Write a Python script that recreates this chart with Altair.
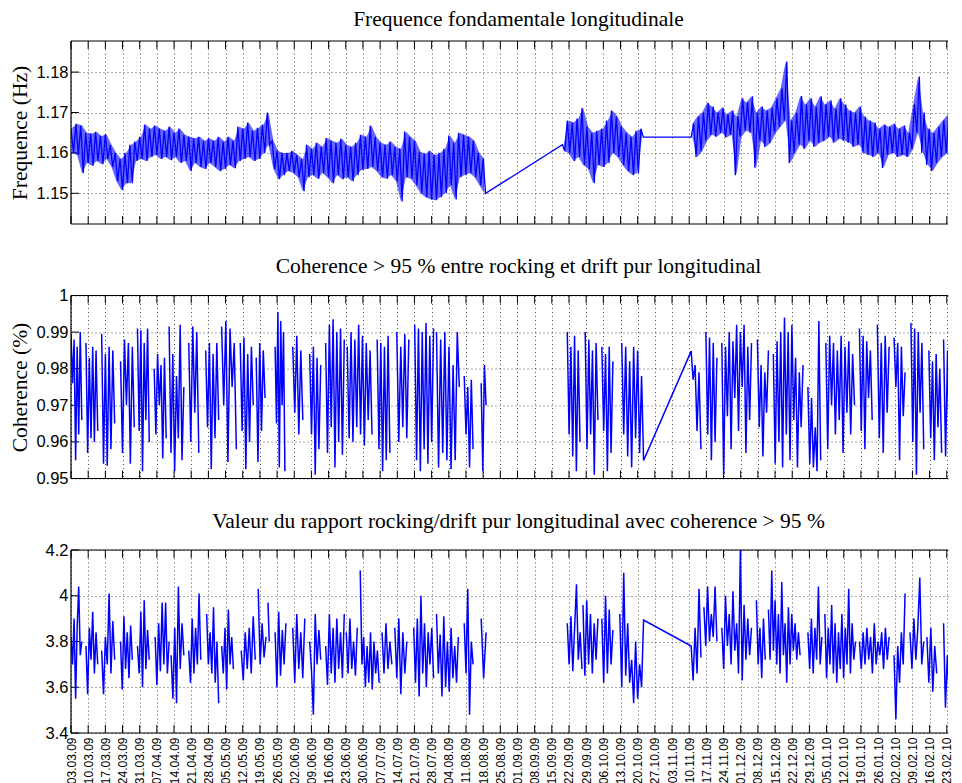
import altair as alt
import pandas as pd

# ---------------- tick labels (weekly, days since 03.03.09) ----------------
TICK_LABELS = ["03.03.09", "10.03.09", "17.03.09", "24.03.09", "31.03.09", "07.04.09", "14.04.09",
               "21.04.09", "28.04.09", "05.05.09", "12.05.09", "19.05.09", "26.05.09", "02.06.09",
               "09.06.09", "16.06.09", "23.06.09", "30.06.09", "07.07.09", "14.07.09", "21.07.09",
               "28.07.09", "04.08.09", "11.08.09", "18.08.09", "25.08.09", "01.09.09", "08.09.09",
               "15.09.09", "22.09.09", "29.09.09", "06.10.09", "13.10.09", "20.10.09", "27.10.09",
               "03.11.09", "10.11.09", "17.11.09", "24.11.09", "01.12.09", "08.12.09", "15.12.09",
               "22.12.09", "29.12.09", "05.01.10", "12.01.10", "19.01.10", "26.01.10", "02.02.10",
               "09.02.10", "16.02.10", "23.02.10"]
TICK_DAYS = [7 * i for i in range(len(TICK_LABELS))]
X_DOMAIN = [0, 357.5]

# ---------------- panel 1 : fundamental frequency (envelope per 2-day bin) ----------------
SEG_A_START = 0.0
SEG_A_HI = [1.1662, 1.1672, 1.1668, 1.1650, 1.1648, 1.1652, 1.1642, 1.1646, 1.1620, 1.1600,
            1.1585, 1.1600, 1.1620, 1.1628, 1.1640, 1.1670, 1.1660, 1.1668, 1.1660, 1.1655,
            1.1665, 1.1650, 1.1660, 1.1645, 1.1640, 1.1636, 1.1640, 1.1630, 1.1636, 1.1630,
            1.1640, 1.1628, 1.1640, 1.1630, 1.1665, 1.1660, 1.1675, 1.1655, 1.1662, 1.1670,
            1.1700, 1.1630, 1.1605, 1.1600, 1.1600, 1.1605, 1.1595, 1.1585, 1.1620, 1.1610,
            1.1625, 1.1615, 1.1637, 1.1630, 1.1625, 1.1635, 1.1620, 1.1615, 1.1625, 1.1645,
            1.1640, 1.1668, 1.1640, 1.1625, 1.1620, 1.1628, 1.1615, 1.1610, 1.1653, 1.1640,
            1.1630, 1.1603, 1.1598, 1.1605, 1.1595, 1.1600, 1.1610, 1.1643, 1.1625, 1.1650,
            1.1645, 1.1640, 1.1630, 1.1600, 1.1585]
SEG_A_LO = [1.1600, 1.1595, 1.1550, 1.1575, 1.1568, 1.1580, 1.1572, 1.1585, 1.1565, 1.1530,
            1.1508, 1.1525, 1.1525, 1.1580, 1.1585, 1.1580, 1.1590, 1.1595, 1.1585, 1.1590,
            1.1582, 1.1590, 1.1575, 1.1580, 1.1555, 1.1575, 1.1565, 1.1560, 1.1575, 1.1565,
            1.1555, 1.1560, 1.1570, 1.1562, 1.1580, 1.1585, 1.1590, 1.1580, 1.1585, 1.1600,
            1.1620, 1.1560, 1.1535, 1.1545, 1.1555, 1.1550, 1.1540, 1.1505, 1.1540, 1.1545,
            1.1536, 1.1550, 1.1540, 1.1525, 1.1545, 1.1535, 1.1540, 1.1530, 1.1545, 1.1558,
            1.1560, 1.1565, 1.1555, 1.1540, 1.1536, 1.1545, 1.1530, 1.1480, 1.1540, 1.1536,
            1.1520, 1.1500, 1.1490, 1.1485, 1.1483, 1.1490, 1.1500, 1.1520, 1.1485, 1.1540,
            1.1545, 1.1550, 1.1540, 1.1520, 1.1500]
SEG_B_START = 200.3
SEG_B_HI = [1.1620, 1.1680, 1.1675, 1.1685, 1.1711, 1.1665, 1.1650, 1.1655, 1.1660, 1.1680,
            1.1705, 1.1690, 1.1665, 1.1650, 1.1640, 1.1655, 1.1660]
SEG_B_LO = [1.1605, 1.1600, 1.1580, 1.1590, 1.1570, 1.1560, 1.1525, 1.1570, 1.1565, 1.1575,
            1.1600, 1.1590, 1.1570, 1.1555, 1.1545, 1.1550, 1.1639]
SEG_C_START = 252.8
SEG_C_LO = [1.1639, 1.1590, 1.1604, 1.1630, 1.1645, 1.1640, 1.1650, 1.1638, 1.1645, 1.1545,
            1.1640, 1.1655, 1.1650, 1.1563, 1.1630, 1.1615, 1.1625, 1.1650, 1.1665, 1.1680,
            1.1575, 1.1600, 1.1620, 1.1610, 1.1630, 1.1615, 1.1625, 1.1630, 1.1640, 1.1625,
            1.1635, 1.1630, 1.1625, 1.1615, 1.1620, 1.1600, 1.1595, 1.1590, 1.1600, 1.1563,
            1.1595, 1.1600, 1.1590, 1.1595, 1.1590, 1.1610, 1.1650, 1.1600, 1.1570, 1.1555,
            1.1575, 1.1590, 1.1600, 1.1605, 1.1600]
SEG_C_HI = [1.1672, 1.1690, 1.1700, 1.1724, 1.1715, 1.1700, 1.1712, 1.1695, 1.1705, 1.1690,
            1.1735, 1.1725, 1.1740, 1.1700, 1.1715, 1.1705, 1.1712, 1.1735, 1.1760, 1.1826,
            1.1680, 1.1700, 1.1741, 1.1720, 1.1735, 1.1715, 1.1740, 1.1720, 1.1730, 1.1710,
            1.1735, 1.1720, 1.1705, 1.1700, 1.1715, 1.1690, 1.1680, 1.1675, 1.1660, 1.1670,
            1.1665, 1.1672, 1.1660, 1.1668, 1.1650, 1.1720, 1.1789, 1.1700, 1.1660, 1.1650,
            1.1665, 1.1680, 1.1694, 1.1685, 1.1690]

# ---------------- panel 2 : coherence, bursts (start day, end day, values) ----------------
P2_START = [0.0, 6.1, 12.5, 20.2, 27.1, 33.9, 40.0, 48.0, 54.9, 61.4, 69.0, 75.5, 83.2, 90.4,
            97.3, 103.8, 112.6, 124.8, 132.8, 140.1, 149.0, 160.3, 167.2, 202.3, 209.6, 216.4,
            224.5, 252.8, 258.8, 265.3, 279.8, 286.3, 300.4, 307.7, 321.4, 328.7, 335.5, 342.4,
            349.7, 355.7]
P2_END = [4.4, 10.9, 17.8, 25.8, 31.9, 38.8, 46.0, 52.1, 60.2, 67.4, 74.3, 79.1, 87.2, 94.5,
          101.8, 111.4, 122.7, 130.0, 137.7, 147.8, 158.3, 163.9, 169.2, 207.5, 214.8, 220.9,
          233.4, 256.8, 263.3, 277.4, 284.3, 298.4, 305.6, 319.4, 326.6, 333.5, 340.0, 347.6,
          354.9, 361.4]
P2_VALUES = [
    [0.9895, 0.976, 0.988, 0.955, 0.986, 0.962, 0.990, 0.966],
    [0.987, 0.957, 0.983, 0.961, 0.986, 0.960, 0.985, 0.963],
    [0.9895, 0.954, 0.984, 0.9535, 0.986, 0.958, 0.985, 0.965],
    [0.982, 0.957, 0.988, 0.970, 0.987, 0.954, 0.986, 0.964],
    [0.991, 0.963, 0.9905, 0.952, 0.987, 0.966, 0.991, 0.960],
    [0.980, 0.962, 0.984, 0.970, 0.981, 0.9555, 0.983, 0.961],
    [0.9915, 0.957, 0.984, 0.952, 0.978, 0.961, 0.992, 0.955, 0.975],
    [0.987, 0.960, 0.9915, 0.968, 0.990, 0.957],
    [0.985, 0.964, 0.987, 0.9525, 0.984, 0.961, 0.987, 0.966],
    [0.9915, 0.970, 0.993, 0.9545, 0.991, 0.975, 0.987, 0.958],
    [0.987, 0.963, 0.9885, 0.9525, 0.984, 0.960, 0.986, 0.970],
    [0.983, 0.9545, 0.987, 0.963, 0.985, 0.972],
    [0.986, 0.965, 0.9955, 0.953, 0.993, 0.970, 0.990, 0.952],
    [0.986, 0.968, 0.989, 0.962, 0.985, 0.966],
    [0.984, 0.962, 0.986, 0.951, 0.983, 0.958, 0.981],
    [0.987, 0.957, 0.992, 0.964, 0.9935, 0.953, 0.990, 0.960, 0.991, 0.9565, 0.988],
    [0.986, 0.961, 0.990, 0.960, 0.988, 0.964, 0.992, 0.962, 0.989, 0.959, 0.987, 0.966, 0.985, 0.962],
    [0.988, 0.958, 0.987, 0.952, 0.986, 0.955, 0.989, 0.957],
    [0.990, 0.960, 0.986, 0.964, 0.9895, 0.961, 0.988],
    [0.992, 0.955, 0.991, 0.952, 0.990, 0.958, 0.9925, 0.954, 0.989, 0.960, 0.991],
    [0.990, 0.953, 0.988, 0.957, 0.990, 0.955, 0.986, 0.9525, 0.981, 0.955, 0.990, 0.975],
    [0.978, 0.962, 0.975, 0.953, 0.977, 0.958],
    [0.976, 0.952, 0.981, 0.970],
    [0.990, 0.962, 0.986, 0.956, 0.989, 0.952, 0.985, 0.960],
    [0.990, 0.958, 0.988, 0.962, 0.985, 0.951, 0.987, 0.966],
    [0.986, 0.963, 0.984, 0.952, 0.986, 0.957, 0.982],
    [0.987, 0.962, 0.986, 0.956, 0.982, 0.953, 0.986, 0.961, 0.985, 0.957, 0.978, 0.9549],
    [0.9848, 0.977, 0.981, 0.963, 0.979, 0.958],
    [0.990, 0.962, 0.9885, 0.955, 0.987, 0.960, 0.983],
    [0.987, 0.951, 0.986, 0.967, 0.990, 0.958, 0.9875, 0.972, 0.992, 0.963, 0.990, 0.975, 0.992,
     0.957, 0.986, 0.966, 0.987],
    [0.988, 0.964, 0.981, 0.956, 0.979, 0.968, 0.985],
    [0.984, 0.954, 0.9875, 0.960, 0.990, 0.953, 0.994, 0.962, 0.990, 0.955, 0.992, 0.966, 0.983,
     0.953, 0.979, 0.964, 0.981],
    [0.975, 0.954, 0.972, 0.953, 0.964, 0.952, 0.993, 0.955],
    [0.987, 0.958, 0.989, 0.970, 0.987, 0.962, 0.985, 0.966, 0.989, 0.957, 0.986, 0.968, 0.9875,
     0.962, 0.984, 0.970],
    [0.991, 0.963, 0.989, 0.958, 0.9875, 0.972, 0.985, 0.966],
    [0.992, 0.961, 0.987, 0.957, 0.989, 0.968, 0.986],
    [0.9885, 0.975, 0.987, 0.955, 0.986, 0.967, 0.979],
    [0.9925, 0.960, 0.991, 0.951, 0.990, 0.968, 0.987, 0.958],
    [0.985, 0.961, 0.982, 0.955, 0.984, 0.964, 0.980, 0.957],
    [0.988, 0.956, 0.985, 0.951, 0.982, 0.962, 0.986, 0.955],
]
P2_LINKED = [26]   # burst that is joined by a straight line to the next one

# ---------------- panel 3 : rocking/drift ratio, bursts ----------------
P3_START = [0.0, 6.1, 12.5, 20.2, 27.1, 34.3, 40.8, 48.0, 55.3, 61.4, 69.4, 76.3, 80.3, 83.2,
            90.4, 97.3, 103.8, 112.2, 117.9, 126.8, 132.0, 139.7, 149.0, 160.3, 167.2, 202.3,
            208.7, 216.4, 223.7, 252.8, 258.0, 265.3, 279.4, 284.3, 300.4, 307.3, 321.4, 335.5,
            342.0, 348.9, 355.7]
P3_END = [4.4, 10.9, 17.8, 25.0, 31.9, 40.0, 46.0, 52.9, 60.2, 66.2, 75.1, 79.5, 80.8, 87.6,
          95.3, 101.8, 111.4, 116.7, 125.6, 130.8, 136.9, 147.8, 157.9, 163.9, 169.2, 208.3,
          214.8, 220.9, 233.4, 256.8, 263.3, 277.4, 283.0, 297.2, 306.1, 319.8, 333.5, 340.0,
          347.6, 352.9, 361.8]
P3_VALUES = [
    [3.82, 3.70, 3.90, 3.55, 3.86, 4.04, 3.74, 3.80],
    [3.78, 3.57, 3.86, 3.72, 3.93, 3.66, 3.84, 3.70],
    [3.76, 3.57, 3.82, 3.70, 4.01, 3.66, 3.89, 3.72],
    [3.80, 3.59, 3.91, 3.68, 3.84, 3.64, 3.87, 3.72],
    [3.78, 3.66, 3.93, 3.60, 3.98, 3.68, 3.85, 3.72],
    [3.82, 3.61, 3.88, 3.67, 3.97, 3.70, 3.97, 3.66, 3.80],
    [3.74, 3.55, 3.86, 3.53, 4.04, 3.68, 3.88, 3.74],
    [3.76, 3.62, 3.90, 3.66, 3.86, 3.70, 4.01, 3.72],
    [3.92, 3.70, 3.84, 3.66, 3.95, 3.62, 3.80, 3.53],
    [3.78, 3.66, 3.86, 3.59, 3.94, 3.70, 3.82, 3.68],
    [3.76, 3.63, 3.84, 3.68, 3.86, 3.66, 3.91, 3.72],
    [4.03, 3.70, 3.88, 3.73, 3.82],
    [3.97, 3.80],
    [3.84, 3.60, 3.93, 3.65, 3.85, 3.70, 3.88],
    [3.86, 3.62, 3.92, 3.68, 3.84, 3.64, 3.90],
    [3.80, 3.67, 3.48, 3.92, 3.70, 3.85, 3.72],
    [3.78, 3.61, 3.92, 3.66, 3.86, 3.62, 3.90, 3.68, 3.84, 3.64, 3.92],
    [3.84, 3.66, 3.90, 3.68, 3.80, 3.65, 3.86],
    [4.11, 3.70, 3.82, 3.60, 3.78, 3.62, 3.84, 3.59, 3.80, 3.66, 3.76, 3.62],
    [3.84, 3.66, 3.88, 3.68, 3.80, 3.70],
    [3.86, 3.64, 3.90, 3.57, 3.84, 3.66, 3.80],
    [3.86, 3.62, 3.90, 3.56, 4.00, 3.66, 3.88, 3.60, 3.84, 3.70, 3.86, 3.64],
    [3.92, 3.66, 3.83, 3.56, 3.91, 3.60, 3.80, 3.58, 3.86, 3.64, 3.78, 3.62, 3.82],
    [3.88, 3.66, 4.03, 3.48, 3.80, 3.70],
    [3.90, 3.64, 3.84],
    [3.88, 3.70, 3.91, 3.67, 3.86, 4.05, 3.72, 3.84, 3.68],
    [3.96, 3.65, 3.98, 3.70, 3.92, 3.66, 3.88, 3.72, 3.90],
    [3.90, 3.62, 4.00, 3.66, 3.94, 3.70, 3.85],
    [3.92, 3.60, 4.10, 3.65, 3.88, 3.62, 3.72, 3.53, 3.80, 3.55, 3.70, 3.60, 3.894],
    [3.78, 3.63, 3.86, 3.66, 4.03, 3.73],
    [3.95, 3.78, 4.04, 3.80, 3.92, 3.82, 4.04, 3.80],
    [3.86, 3.68, 4.00, 3.78, 3.92, 3.70, 4.02, 3.76, 3.88, 3.66, 4.20, 3.63, 3.96, 3.72, 3.90,
     3.74, 3.86],
    [3.98, 3.70, 3.86, 3.64, 3.90, 3.72],
    [3.94, 3.72, 4.11, 3.76, 3.98, 3.70, 3.92, 3.66, 4.06, 3.74, 3.88, 3.62, 3.95, 3.70, 3.92,
     3.76, 3.88, 3.72, 3.84, 3.74],
    [3.84, 3.68, 3.90, 3.66, 3.86, 3.72, 4.04, 3.70, 3.82],
    [3.92, 3.64, 3.86, 3.70, 3.96, 3.66, 3.88, 3.62, 3.84, 3.68, 3.92, 3.64, 3.86, 3.70, 4.03,
     3.66, 3.88, 3.72, 3.80],
    [3.80, 3.68, 3.84, 3.70, 3.86, 3.72, 3.82, 3.66, 3.88, 3.70, 3.80, 3.74, 3.84, 3.68, 3.86,
     3.72, 3.82],
    [3.74, 3.46, 3.78, 3.62, 3.84, 3.70, 4.01],
    [3.84, 3.68, 3.90, 3.72, 3.86, 4.08, 3.70, 3.80],
    [3.82, 3.62, 3.86, 3.58, 3.78, 3.66],
    [3.88, 3.51, 3.74, 3.56, 3.90, 3.70, 3.80, 3.62, 3.86],
]
P3_LINKED = [28]

Y1_TICKS = [1.15, 1.16, 1.17, 1.18]
Y2_TICKS = [0.95, 0.96, 0.97, 0.98, 0.99, 1.0]
Y3_TICKS = [3.4, 3.6, 3.8, 4.0, 4.2]
Y1_DOMAIN = [1.1424, 1.1877]
Y2_DOMAIN = [0.95, 1.0]
Y3_DOMAIN = [3.4, 4.2]

TITLES = ["Frequence fondamentale longitudinale",
          "Coherence > 95 % entre rocking et drift pur longitudinal",
          "Valeur du rapport rocking/drift pur longitudinal avec coherence > 95 %"]
YTITLES = ["Frequence (Hz)", "Coherence (%)", None]


# ---------------- build tables ----------------
def envelope_rows(start, first, second):
    rows = []
    for i, (a, b) in enumerate(zip(first, second)):
        rows.append({"day": start + 2 * i, "value": a, "grp": 0})
        rows.append({"day": start + 2 * i + 1, "value": b, "grp": 0})
    return rows


def band_rows(start, los, his, seg):
    return [{"day": start + 2 * i + 0.5, "lo": lo, "hi": hi, "seg": seg}
            for i, (lo, hi) in enumerate(zip(los, his))]


df1 = pd.DataFrame(envelope_rows(SEG_A_START, SEG_A_HI, SEG_A_LO)
                   + envelope_rows(SEG_B_START, SEG_B_HI, SEG_B_LO)
                   + envelope_rows(SEG_C_START, SEG_C_LO, SEG_C_HI))
band1 = pd.DataFrame(band_rows(SEG_A_START, SEG_A_LO, SEG_A_HI, 0)
                     + band_rows(SEG_B_START, SEG_B_LO, SEG_B_HI, 1)
                     + band_rows(SEG_C_START, SEG_C_LO, SEG_C_HI, 2))


def burst_rows(starts, ends, values, linked):
    rows = []
    g = 0
    for k, (s, e, vals) in enumerate(zip(starts, ends, values)):
        n = len(vals)
        for j, v in enumerate(vals):
            d = s + (e - s) * j / (n - 1) if n > 1 else s
            rows.append({"day": d, "value": v, "grp": g})
        if k not in linked:
            g += 1
    return rows


df2 = pd.DataFrame(burst_rows(P2_START, P2_END, P2_VALUES, P2_LINKED))
df3 = pd.DataFrame(burst_rows(P3_START, P3_END, P3_VALUES, P3_LINKED))

W, H = 877, 183
TICK_LEN = 8
BLUE = "#0000ff"
SERIF = "Liberation Serif"
SANS = "Liberation Sans"
GRID = dict(grid=True, gridDash=[1, 3], gridColor="#404040", gridWidth=1, gridOpacity=0.9)
LABEL_EXPR = "[" + ",".join("'" + s + "'" for s in TICK_LABELS) + "][round(datum.value / 7)]"
ONE = pd.DataFrame({"k": [0]})


def panel(df, ydomain, yticks, ytitle, title, xlabels, band=None, lw=1.3):
    xs = alt.Scale(domain=X_DOMAIN, nice=False, zero=False)
    ys = alt.Scale(domain=ydomain, nice=False, zero=False)
    if xlabels:
        xaxis = alt.Axis(values=TICK_DAYS, labelExpr=LABEL_EXPR, labelAngle=270, labelFont=SANS,
                         labelFontSize=12, labelColor="black", labelPadding=4, labelOverlap=False,
                         labelFlush=False, ticks=False, tickSize=0, domain=False, title=None, **GRID)
    else:
        xaxis = alt.Axis(values=TICK_DAYS, labels=False, ticks=False, tickSize=0, domain=False,
                         title=None, **GRID)
    yaxis_kw = dict(values=yticks, format="~g", labelFont=SANS, labelFontSize=16.5,
                    labelColor="black", labelPadding=3, labelFlush=False, labelOverlap=False,
                    ticks=False, tickSize=0, domain=False, **GRID)
    if ytitle:
        yaxis = alt.Axis(title=ytitle, titleFont=SERIF, titleFontSize=21.5, titleFontWeight="normal",
                         titleColor="black", titlePadding=4, **yaxis_kw)
    else:
        yaxis = alt.Axis(title=None, **yaxis_kw)

    X = alt.X("day:Q", scale=xs, axis=xaxis)
    layers = []
    xt = pd.DataFrame({"day": TICK_DAYS})
    yt = pd.DataFrame({"value": yticks})
    # inward ticks (MATLAB style)
    layers.append(alt.Chart(xt).mark_rule(color="black", strokeWidth=1).encode(
        x=X, y=alt.value(0), y2=alt.value(TICK_LEN)))
    layers.append(alt.Chart(xt).mark_rule(color="black", strokeWidth=1).encode(
        x=X, y=alt.value(H - TICK_LEN), y2=alt.value(H)))
    layers.append(alt.Chart(yt).mark_rule(color="black", strokeWidth=1).encode(
        y=alt.Y("value:Q", scale=ys, axis=yaxis), x=alt.value(0), x2=alt.value(TICK_LEN)))
    # data
    if band is not None:
        layers.append(alt.Chart(band).mark_area(color=BLUE, opacity=0.6, clip=True).encode(
            x=X, y=alt.Y("lo:Q", scale=ys, axis=yaxis), y2="hi:Q", detail="seg:N"))
    layers.append(alt.Chart(df).mark_line(color=BLUE, strokeWidth=lw, clip=True).encode(
        x=X, y=alt.Y("value:Q", scale=ys, axis=yaxis), detail="grp:N"))
    # box (open on the right, where the original figure runs off the page)
    layers.append(alt.Chart(ONE).mark_rule(color="black", strokeWidth=1.2).encode(
        x=alt.value(0), x2=alt.value(W), y=alt.value(0)))
    layers.append(alt.Chart(ONE).mark_rule(color="black", strokeWidth=1.2).encode(
        x=alt.value(0), x2=alt.value(W), y=alt.value(H)))
    layers.append(alt.Chart(ONE).mark_rule(color="black", strokeWidth=1.2).encode(
        x=alt.value(0), y=alt.value(0), y2=alt.value(H)))
    return alt.layer(*layers).properties(
        width=W, height=H,
        title=alt.TitleParams(text=title, font=SERIF, fontSize=21.5, fontWeight="normal",
                              color="black", offset=10, frame="group", anchor="middle", dx=9),
    )


p1 = panel(df1, Y1_DOMAIN, Y1_TICKS, YTITLES[0], TITLES[0], False, band=band1)
p2 = panel(df2, Y2_DOMAIN, Y2_TICKS, YTITLES[1], TITLES[1], False, lw=1.5)
p3 = panel(df3, Y3_DOMAIN, Y3_TICKS, YTITLES[2], TITLES[2], True, lw=1.5)

chart = alt.vconcat(p1, p2, p3, spacing=71.5, bounds="flush").properties(
    padding={"left": 1, "top": 0, "right": 0, "bottom": 0},
    background="white",
).configure_view(stroke=None)

chart.save("out.html", embed_options={"renderer": "svg", "actions": False})
